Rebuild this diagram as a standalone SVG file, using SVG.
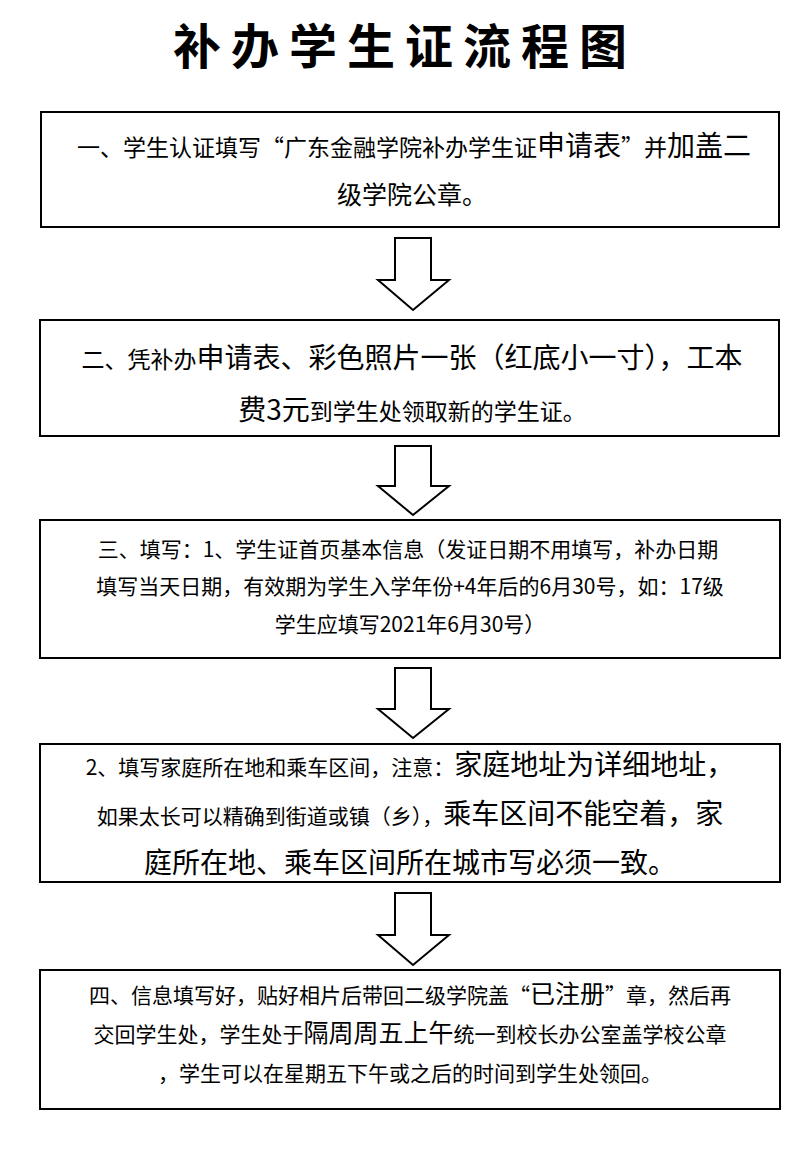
<svg xmlns="http://www.w3.org/2000/svg" width="810" height="1157" viewBox="0 0 810 1157">
<style>
.b{fill:#fff;stroke:#000;stroke-width:2}
.a{fill:#fff;stroke:#000;stroke-width:2;stroke-linejoin:miter}
text{font-family:"Noto Sans CJK SC","Liberation Serif",sans-serif;fill:#000;text-anchor:middle}
.t{font-size:23px}
.L{font-size:28px}
</style>
<rect width="810" height="1157" fill="#fff"/>
<text x="405" y="64" font-size="48" letter-spacing="10" font-weight="bold">补办学生证流程图</text>
<g id="connectors">
<path class="a" d="M395 238H431V280H449L413 310L378 280H395Z"/>
<path class="a" d="M395 446H431V486H449L413 515L378 486H395Z"/>
<path class="a" d="M395 668H431V709H449L413 738L378 709H395Z"/>
<path class="a" d="M395 893H431V935H449L413 965L378 935H395Z"/>
</g>
<g id="n1"><rect class="b" x="41" y="112" width="738" height="115"/>
<text x="414" y="156" class="t">一、学生认证填写“广东金融学院补办学生证<tspan class="L">申请表</tspan>”并<tspan class="L">加盖二</tspan></text>
<text x="412" y="204" font-size="25">级学院公章。</text></g>
<g id="n2"><rect class="b" x="40" y="320" width="739" height="116"/>
<text x="412" y="368" class="t">二、凭补办<tspan class="L">申请表、彩色照片一张（红底小一寸），工本</tspan></text>
<text x="412" y="420" class="t"><tspan class="L">费3元</tspan>到学生处领取新的学生证。</text></g>
<g id="n3"><rect class="b" x="40" y="520" width="740" height="138"/>
<text x="408" y="557" font-size="21">三、填写：1、学生证首页基本信息（发证日期不用填写，补办日期</text>
<text x="410" y="594" font-size="21">填写当天日期，有效期为学生入学年份+4年后的6月30号，如：17级</text>
<text x="410" y="632" font-size="21">学生应填写2021年6月30号）</text></g>
<g id="n4"><rect class="b" x="40" y="744" width="740" height="138"/>
<text x="410" y="775" font-size="21">2、填写家庭所在地和乘车区间，注意：<tspan class="L">家庭地址为详细地址，</tspan></text>
<text x="410" y="824" font-size="21">如果太长可以精确到街道或镇（乡），<tspan class="L">乘车区间不能空着，家</tspan></text>
<text x="410" y="873" class="L">庭所在地、乘车区间所在城市写必须一致。</text></g>
<g id="n5"><rect class="b" x="40" y="970" width="740" height="139"/>
<text x="410" y="1003" font-size="21">四、信息填写好，贴好相片后带回二级学院盖“<tspan font-size="25">已注册</tspan>”章，然后再</text>
<text x="410" y="1042" font-size="21">交回学生处，学生处于<tspan font-size="25">隔周周五上午</tspan>统一到校长办公室盖学校公章</text>
<text x="410" y="1081" font-size="21">，学生可以在星期五下午或之后的时间到学生处领回。</text></g>
</svg>
